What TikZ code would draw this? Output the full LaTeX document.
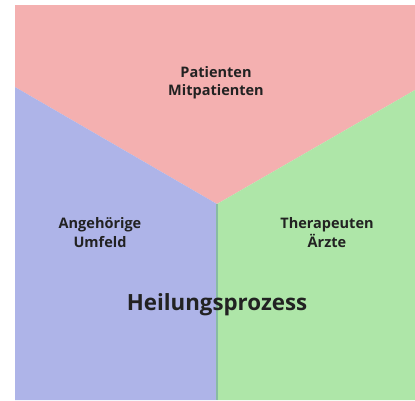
\documentclass[tikz,border=0pt]{standalone}
\usepackage{fontspec}
\setmainfont{Open Sans}
\definecolor{sectorred}{HTML}{F4B0B0}
\definecolor{sectorblue}{HTML}{AEB4E8}
\definecolor{sectorgreen}{HTML}{AEE6A8}
\definecolor{seam}{HTML}{88BBA4}
\definecolor{ink}{HTML}{222222}
\begin{document}
\begin{tikzpicture}[x=1pt,y=-1pt,
  label/.style={text=ink,font=\bfseries\fontsize{14.5}{18.5}\selectfont,align=center},
  title/.style={text=ink,font=\bfseries\fontsize{22.3}{24}\selectfont}]
\useasboundingbox (0,0) rectangle (415,400);
\fill[white] (0,0) rectangle (415,400);
% three sectors meeting at the centre
\coordinate (c) at (217,204);
\fill[sectorred] (15,5) -- (415,5) -- (415,90) -- (c) -- (15,87) -- cycle;
\fill[sectorblue] (15,87) -- (c) -- (217,400) -- (15,400) -- cycle;
\fill[sectorgreen] (c) -- (415,90) -- (415,400) -- (217,400) -- cycle;
\coordinate (b) at (217,400);
\draw[seam,line width=1.5pt] (c) -- (b);
% labels
\node[label] (pat) at (216,82.5) {Patienten\\Mitpatienten};
\node[label] (ang) at (100,232.5) {Angehörige\\Umfeld};
\node[label] (ther) at (327,232.5) {Therapeuten\\Ärzte};
\node[title] (heil) at (217,305) {Heilungsprozess};
\end{tikzpicture}
\end{document}
